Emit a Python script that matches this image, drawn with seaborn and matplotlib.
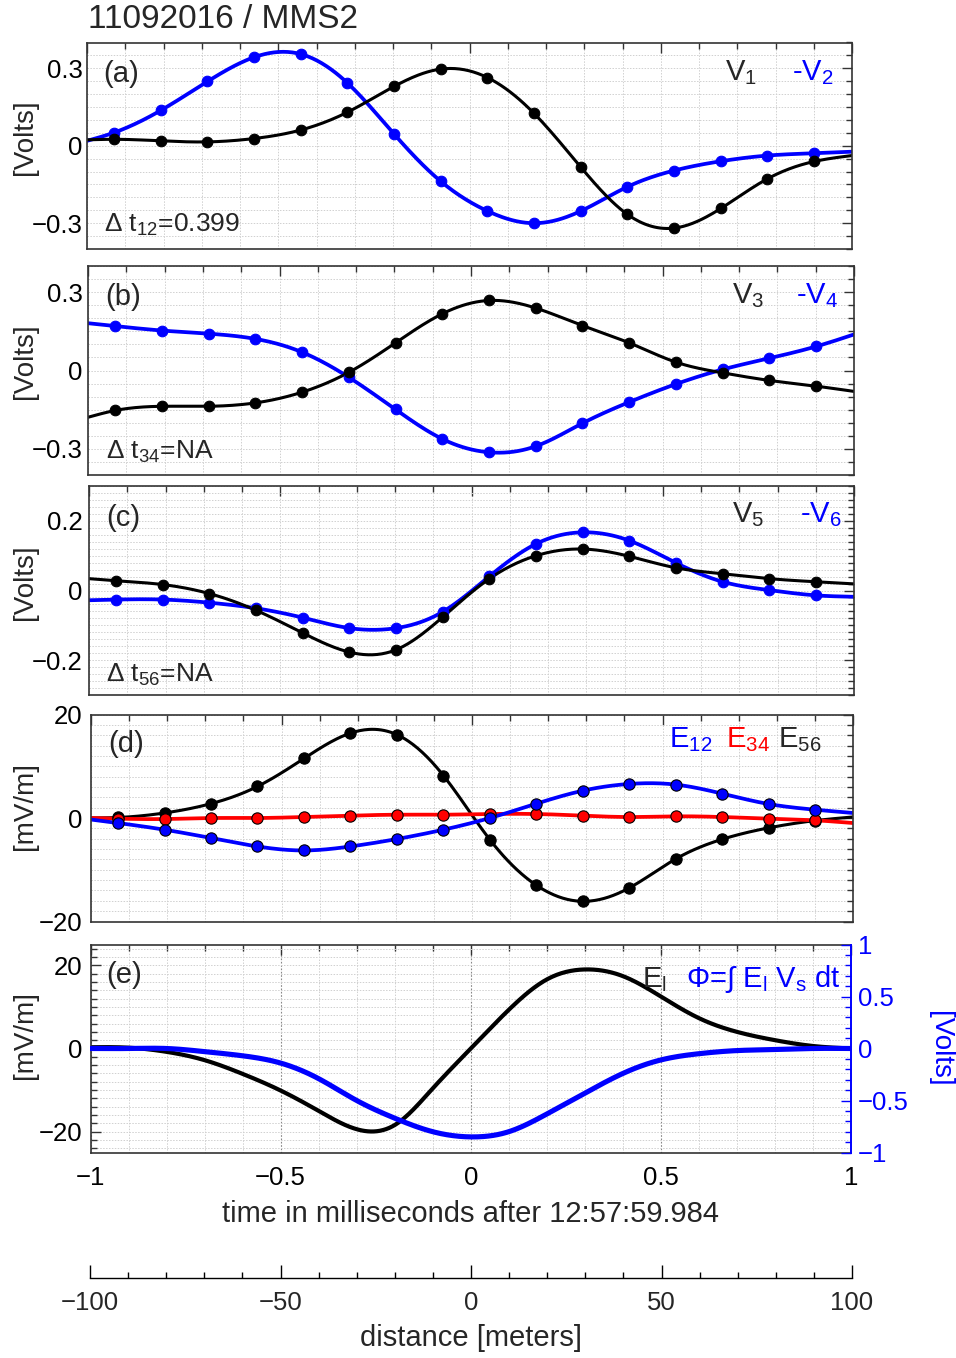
import numpy as np
import pandas as pd
import matplotlib
matplotlib.use('Agg')
import matplotlib.pyplot as plt
import seaborn as sns
from matplotlib.ticker import MultipleLocator, FuncFormatter

# sample times (ms) of the 8192 Hz points, with the plot edges at -1 and 1
t_knots = [-1.0, -0.929, -0.807, -0.685, -0.563, -0.441, -0.319, -0.197, -0.075,
           0.047, 0.169, 0.291, 0.413, 0.535, 0.657, 0.779, 0.901, 1.0]

# (a) probe potentials [Volts]
v1 = [0.023, 0.025, 0.019, 0.015, 0.028, 0.061, 0.130, 0.230, 0.297,
      0.264, 0.125, -0.083, -0.266, -0.319, -0.243, -0.128, -0.061, -0.038]
mv2 = [0.019, 0.051, 0.137, 0.249, 0.343, 0.355, 0.243, 0.045, -0.138,
       -0.253, -0.300, -0.253, -0.159, -0.096, -0.060, -0.038, -0.029, -0.023]
# (b)
v3 = [-0.179, -0.153, -0.137, -0.137, -0.124, -0.083, -0.007, 0.106, 0.217,
      0.268, 0.239, 0.172, 0.106, 0.032, -0.009, -0.038, -0.060, -0.080]
mv4 = [0.181, 0.170, 0.153, 0.141, 0.121, 0.070, -0.026, -0.149, -0.262,
       -0.313, -0.290, -0.202, -0.121, -0.052, 0.004, 0.047, 0.092, 0.138]
# (c)
v5 = [0.034, 0.028, 0.017, -0.009, -0.057, -0.122, -0.177, -0.170, -0.076,
      0.034, 0.100, 0.119, 0.098, 0.065, 0.048, 0.034, 0.025, 0.019]
mv6 = [-0.028, -0.026, -0.026, -0.035, -0.051, -0.078, -0.108, -0.108, -0.061,
       0.041, 0.134, 0.167, 0.143, 0.079, 0.025, 0.001, -0.014, -0.018]
# (d) electric field components [mV/m]
e12 = [-0.3, -0.97, -2.26, -3.87, -5.5, -6.27, -5.5, -4.06, -2.26,
       0.0, 2.77, 5.28, 6.58, 6.45, 4.7, 2.7, 1.6, 0.97]
e34 = [0.0, -0.13, -0.2, 0.0, 0.0, 0.19, 0.45, 0.64, 0.64,
       0.77, 0.77, 0.45, 0.19, 0.32, 0.19, -0.13, -0.45, -0.97]
e56 = [0.0, 0.1, 0.97, 2.77, 6.1, 11.5, 16.4, 16.1, 8.2,
       -4.2, -13.0, -16.1, -13.5, -7.9, -4.1, -1.9, -0.5, 0.2]

# (e) parallel field [mV/m] and potential [Volts]
t_e = [-1.0, -0.9, -0.8, -0.7, -0.6, -0.5, -0.4, -0.3, -0.2, -0.1, 0.0,
       0.1, 0.2, 0.3, 0.4, 0.5, 0.6, 0.7, 0.8, 0.9, 1.0]
e_par = [0.3, 0.2, -0.8, -2.8, -6.1, -10.1, -15.0, -19.4, -18.4, -9.6, 0.0,
         9.3, 16.6, 19.0, 17.4, 12.5, 7.3, 4.0, 2.0, 0.6, 0.0]
phi = [0.0, 0.0, 0.0, -0.03, -0.07, -0.14, -0.29, -0.50, -0.67, -0.80, -0.85,
       -0.80, -0.63, -0.43, -0.24, -0.11, -0.05, -0.02, -0.01, 0.0, 0.0]

W, H = 956, 1358
BLUE = '#0000ff'
RED = '#ff0000'


def smooth(x, y, n=500):
    # natural cubic spline, just to draw the curve through the points
    x = np.asarray(x, float)
    y = np.asarray(y, float)
    h = np.diff(x)
    k = len(x)
    A = np.zeros((k, k))
    r = np.zeros(k)
    A[0, 0] = A[-1, -1] = 1
    for i in range(1, k - 1):
        A[i, i - 1] = h[i - 1]
        A[i, i] = 2 * (h[i - 1] + h[i])
        A[i, i + 1] = h[i]
        r[i] = 3 * ((y[i + 1] - y[i]) / h[i] - (y[i] - y[i - 1]) / h[i - 1])
    c = np.linalg.solve(A, r)
    b = (y[1:] - y[:-1]) / h - h * (2 * c[:-1] + c[1:]) / 3
    d = (c[1:] - c[:-1]) / (3 * h)
    xx = np.linspace(x[0], x[-1], n)
    idx = np.clip(np.searchsorted(x, xx) - 1, 0, k - 2)
    dx = xx - x[idx]
    yy = y[idx] + b[idx] * dx + c[idx] * dx ** 2 + d[idx] * dx ** 3
    return pd.DataFrame({'t': xx, 'v': yy})


def fmt(v, p):
    return ('%g' % v).replace('-', '\u2212')


sns.set_theme(style='white')
plt.rcParams['font.family'] = ['Liberation Sans', 'DejaVu Sans']
plt.rcParams['mathtext.fontset'] = 'custom'
plt.rcParams['mathtext.rm'] = 'Liberation Sans'
plt.rcParams['mathtext.default'] = 'regular'

fig = plt.figure(figsize=(W / 100, H / 100), dpi=100)


def px(x, y):
    return x / W, 1 - y / H


def make_ax(l, r, t, b, ylim, ymaj, ymin, lpad):
    ax = fig.add_axes([l / W, 1 - b / H, (r - l) / W, (b - t) / H])
    ax.set_xlim(-1, 1)
    ax.set_ylim(*ylim)
    ax.xaxis.set_major_locator(MultipleLocator(0.5))
    ax.xaxis.set_minor_locator(MultipleLocator(0.1))
    ax.yaxis.set_major_locator(MultipleLocator(ymaj))
    ax.yaxis.set_minor_locator(MultipleLocator(ymin))
    ax.yaxis.set_major_formatter(FuncFormatter(fmt))
    ax.xaxis.set_major_formatter(FuncFormatter(fmt))
    ax.tick_params(which='both', direction='in', top=True, right=True,
                   color='#333333', width=1.0, labelsize=18.5, labelcolor='black')
    ax.tick_params(which='major', length=7)
    ax.tick_params(which='minor', length=4)
    ax.tick_params(axis='y', pad=lpad)
    ax.tick_params(axis='x', labelbottom=False, pad=9.5)
    ax.grid(which='both', color='#d0d0d0', ls=(0, (1.5, 1.5)), lw=0.7)
    ax.set_axisbelow(True)
    for s in ax.spines.values():
        s.set_color('#333333')
        s.set_linewidth(1.2)
    return ax


def curve(ax, vals, color, lw, ms, edge=None):
    sns.lineplot(data=smooth(t_knots, vals), x='t', y='v', ax=ax, color=color,
                 lw=lw, errorbar=None, estimator=None, sort=False)
    sns.scatterplot(x=t_knots[1:-1], y=vals[1:-1], ax=ax, color=color, s=ms,
                    edgecolor=edge if edge else color, linewidth=0.8, zorder=4)


# panel boxes in pixels: left, right, top, bottom
ax_a = make_ax(87, 852, 42.5, 249, (-0.4, 0.4), 0.3, 0.05, 3.3)
ax_b = make_ax(88, 854, 266, 475, (-0.4, 0.4), 0.3, 0.05, 4.0)
ax_c = make_ax(89, 854, 486, 695, (-0.3, 0.3), 0.2, 0.02, 4.7)
ax_d = make_ax(91, 853, 714.5, 921.5, (-20, 20), 20, 2, 6.2)
ax_e = make_ax(90.5, 851, 944.5, 1152.5, (-25, 25), 20, 2, 5.8)

curve(ax_a, mv2, BLUE, 2.7, 58)
curve(ax_a, v1, 'black', 2.2, 58)
curve(ax_b, mv4, BLUE, 2.7, 58)
curve(ax_b, v3, 'black', 2.2, 58)
curve(ax_c, mv6, BLUE, 2.7, 58)
curve(ax_c, v5, 'black', 2.2, 58)
curve(ax_d, e56, 'black', 2.2, 66, 'black')
curve(ax_d, e34, RED, 2.7, 66, 'black')
curve(ax_d, e12, BLUE, 2.7, 66, 'black')

# (e) with potential on a twin axis
ax_e.tick_params(axis='x', labelbottom=True, labelsize=18.5)
ax_e.tick_params(right=False, which='both')
ax_e.spines['right'].set_visible(False)
ax_e.grid(which='major', axis='x', color='#888888', ls=(0, (1.5, 1.5)), lw=0.8)
sns.lineplot(data=smooth(t_e, e_par), x='t', y='v', ax=ax_e, color='black', lw=3.0,
             errorbar=None, estimator=None, sort=False)
ax_e2 = ax_e.twinx()
ax_e2.set_ylim(-1, 1)
ax_e2.yaxis.set_major_locator(MultipleLocator(0.5))
ax_e2.yaxis.set_minor_locator(MultipleLocator(0.1))
ax_e2.yaxis.set_major_formatter(FuncFormatter(fmt))
ax_e2.tick_params(which='both', direction='in', color=BLUE, labelcolor=BLUE,
                  labelsize=18.5, width=1.0, pad=5)
ax_e2.tick_params(which='major', length=7)
ax_e2.tick_params(which='minor', length=4)
ax_e2.grid(False)
for s in ax_e2.spines.values():
    s.set_visible(False)
ax_e2.spines['right'].set_visible(True)
ax_e2.spines['right'].set_color(BLUE)
ax_e2.spines['right'].set_linewidth(1.4)
sns.lineplot(data=smooth(t_e, phi), x='t', y='v', ax=ax_e2, color=BLUE, lw=3.7,
             errorbar=None, estimator=None, sort=False)

for a in [ax_a, ax_b, ax_c, ax_d, ax_e, ax_e2]:
    a.set_xlabel('')
    a.set_ylabel('')

# distance axis
ax_x = fig.add_axes([90 / W, 1 - 1277.7 / H, (852 - 90) / W, 0.001])
ax_x.set_xlim(-100, 100)
ax_x.set_yticks([])
ax_x.xaxis.set_major_locator(MultipleLocator(50))
ax_x.xaxis.set_minor_locator(MultipleLocator(10))
ax_x.xaxis.set_major_formatter(FuncFormatter(fmt))
ax_x.tick_params(axis='x', which='both', direction='in', color='black',
                 width=1.0, labelsize=18.5, pad=9.5, bottom=True)
ax_x.tick_params(axis='x', which='major', length=9.5)
ax_x.tick_params(axis='x', which='minor', length=4.5)
for k in ['top', 'left', 'right']:
    ax_x.spines[k].set_visible(False)
ax_x.spines['bottom'].set_color('black')
ax_x.spines['bottom'].set_linewidth(1.0)
ax_x.patch.set_visible(False)

# texts
fig.text(*px(88, 28.5), '11092016 / MMS2', fontsize=24, va='baseline')
for lab, (x, y) in zip(['(a)', '(b)', '(c)', '(d)', '(e)'],
                       [(103, 82.5), (105, 305), (106.5, 526.5), (108, 752.5), (106.5, 983)]):
    fig.text(*px(x, y), lab, fontsize=21, va='baseline')

fig.text(*px(104, 231.7), '\u0394 t$_{12}$=0.399', fontsize=19, va='baseline')
fig.text(*px(106.5, 459), '\u0394 t$_{34}$=NA', fontsize=19, va='baseline')
fig.text(*px(106.5, 681.7), '\u0394 t$_{56}$=NA', fontsize=19, va='baseline')

fig.text(*px(725, 80), 'V$_1$', fontsize=21, va='baseline')
fig.text(*px(791.5, 80), '-V$_2$', fontsize=21, va='baseline', color=BLUE)
fig.text(*px(731.5, 303.3), 'V$_3$', fontsize=21, va='baseline')
fig.text(*px(796, 303.3), '-V$_4$', fontsize=21, va='baseline', color=BLUE)
fig.text(*px(731.5, 522.7), 'V$_5$', fontsize=21, va='baseline')
fig.text(*px(800.5, 522.7), '-V$_6$', fontsize=21, va='baseline', color=BLUE)
fig.text(*px(669, 746.7), 'E$_{12}$', fontsize=21, va='baseline', color=BLUE)
fig.text(*px(726, 746.7), 'E$_{34}$', fontsize=21, va='baseline', color=RED)
fig.text(*px(777.5, 746.7), 'E$_{56}$', fontsize=21, va='baseline')
fig.text(*px(641.5, 986.7), 'E$_l$', fontsize=21, va='baseline')
fig.text(*px(686.5, 986.7), '\u03a6=\u222b E$_l$ V$_s$ dt', fontsize=21, va='baseline', color=BLUE)

for lab, y in zip(['[Volts]', '[Volts]', '[Volts]', '[mV/m]', '[mV/m]'],
                  [137, 361, 582, 806, 1035]):
    fig.text(*px(25, y), lab, fontsize=20, rotation=90, ha='center', va='center')
fig.text(*px(940, 1049), '[Volts]', fontsize=20, rotation=270, ha='center', va='center',
         color=BLUE)

fig.text(*px(471, 1214), 'time in milliseconds after 12:57:59.984', fontsize=21,
         ha='center', va='center')
fig.text(*px(471, 1338), 'distance [meters]', fontsize=21, ha='center', va='center')

fig.savefig('out.png', dpi=100)
